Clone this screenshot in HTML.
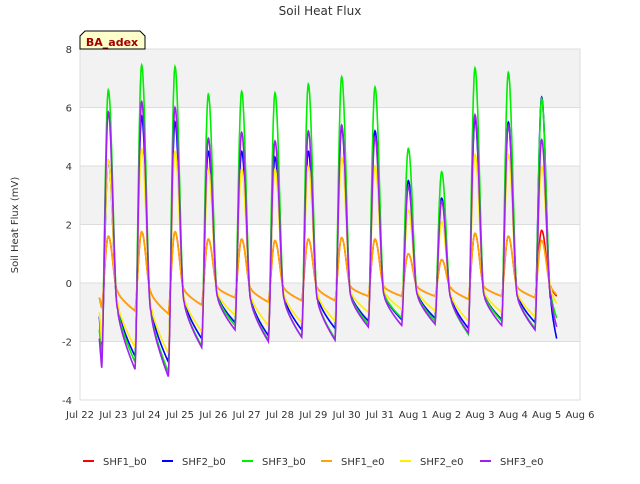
<!DOCTYPE html>
<html><head><meta charset="utf-8"><style>
body{margin:0;background:#fff;font-family:"DejaVu Sans",sans-serif}
</style></head><body>
<svg width="640" height="480" xmlns="http://www.w3.org/2000/svg" font-family="DejaVu Sans, sans-serif">
<rect width="640" height="480" fill="#fff"/>
<text x="320" y="15" text-anchor="middle" font-size="12" fill="#333">Soil Heat Flux</text>
<g id="bands"></g>
<g id="grid"></g>
<g id="series"></g>
<g id="axes"></g>
<g>
<path d="M80,49 L80,36 L85,31 L140,31 L145,36 L145,49 Z" fill="#ffffcc" stroke="#000"/>
<text x="112" y="46" text-anchor="middle" font-size="11" font-weight="bold" fill="#a00000">BA_adex</text>
</g>
<text transform="translate(18,225) rotate(-90)" text-anchor="middle" font-size="10" fill="#333">Soil Heat Flux (mV)</text>
<g id="legend"></g>
</svg>
<script>
const days=["Jul 22","Jul 23","Jul 24","Jul 25","Jul 26","Jul 27","Jul 28","Jul 29","Jul 30","Jul 31","Aug 1","Aug 2","Aug 3","Aug 4","Aug 5","Aug 6"];
const yTicks=[-4,-2,0,2,4,6,8];
const names=["SHF1_b0","SHF2_b0","SHF3_b0","SHF1_e0","SHF2_e0","SHF3_e0"];
const colors=["#ff0000","#0000ff","#00ee00","#ffa500","#ffee00","#a020f0"];
const startVals=[-0.5,-1.15,-1.6,-0.5,-1.0,-1.9];
const peaksSHF1b=[1.6,1.75,1.75,1.5,1.5,1.45,1.5,1.55,1.5,1.0,0.8,1.7,1.6,1.8];
const peaksSHF2b=[4.2,5.7,5.5,4.5,4.5,4.3,4.5,5.3,5.2,3.5,2.9,5.6,5.5,6.35];
const peaksSHF3b=[6.6,7.45,7.4,6.45,6.55,6.5,6.8,7.05,6.7,4.6,3.8,7.35,7.2,6.3];
const peaksSHF1e=[1.6,1.75,1.75,1.5,1.5,1.45,1.5,1.55,1.5,1.0,0.8,1.7,1.6,1.45];
const peaksSHF2e=[4.2,4.6,4.5,3.9,3.9,3.9,4.0,4.3,4.0,2.5,2.1,4.4,4.4,4.0];
const peaksSHF3e=[5.85,6.2,6.0,4.95,5.15,4.85,5.2,5.4,5.0,3.3,2.8,5.75,5.4,4.9];
const minsSHF1b=[-0.85,-0.95,-1.05,-0.75,-0.5,-0.65,-0.6,-0.6,-0.45,-0.45,-0.45,-0.55,-0.45,-0.5,-0.45];
const minsSHF2b=[-2.3,-2.5,-2.7,-1.9,-1.35,-1.8,-1.6,-1.55,-1.3,-1.25,-1.2,-1.55,-1.25,-1.35,-1.9];
const minsSHF3b=[-2.6,-2.7,-3.05,-2.15,-1.45,-1.95,-1.85,-1.9,-1.4,-1.2,-1.3,-1.75,-1.3,-1.55,-1.2];
const minsSHF1e=[-0.85,-0.95,-1.05,-0.75,-0.5,-0.65,-0.6,-0.6,-0.45,-0.45,-0.45,-0.55,-0.45,-0.5,-0.4];
const minsSHF2e=[-2.0,-2.2,-2.4,-1.65,-1.1,-1.45,-1.35,-1.3,-1.0,-0.9,-0.95,-1.3,-1.0,-1.15,-0.7];
const minsSHF3e=[-2.9,-2.95,-3.2,-2.2,-1.6,-2.0,-1.85,-1.95,-1.5,-1.45,-1.4,-1.7,-1.45,-1.6,-1.5];
const peaks=[peaksSHF1b,peaksSHF2b,peaksSHF3b,peaksSHF1e,peaksSHF2e,peaksSHF3e];
const mins=[minsSHF1b,minsSHF2b,minsSHF3b,minsSHF1e,minsSHF2e,minsSHF3e];

const L=80,R=580,T=49,B=400;
const X=t=>L+(R-L)*t/15;
const Y=v=>B-(B-T)*(v+4)/12;
const NS="http://www.w3.org/2000/svg";
function mk(tag,attrs,parent){const e=document.createElementNS(NS,tag);for(const k in attrs)e.setAttribute(k,attrs[k]);parent.appendChild(e);return e;}
const bands=document.getElementById('bands'),grid=document.getElementById('grid'),axes=document.getElementById('axes');
mk('rect',{x:L,y:T,width:R-L,height:B-T,fill:'#fff'},bands);
for(let v=-2;v<8;v+=4){const b=mk('rect',{x:L,y:Y(v+2),width:R-L,height:Y(v)-Y(v+2),fill:'#f2f2f2'},bands);

}
yTicks.forEach(v=>{const l=mk('line',{x1:L,x2:R,y1:Y(v),y2:Y(v),stroke:'#ddd'},grid);


const t=mk('text',{x:L-8,y:Y(v)+4,'text-anchor':'end','font-size':10,fill:'#333'},axes);t.textContent=v;

});
days.forEach((d,i)=>{const t=mk('text',{x:X(i),y:B+18,'text-anchor':'middle','font-size':10,fill:'#333'},axes);t.textContent=d;

});
const fr=mk('rect',{x:L,y:T,width:R-L,height:B-T,fill:'none',stroke:'#ddd'},axes);



function seriesPts(s){
  const P=peaks[s],M=mins[s],pts=[];
  const n=P.length;
  for(let t=0.58;t<=0.65;t+=0.01)pts.push([t,startVals[s]+(M[0]-startVals[s])*(t-0.58)/0.07]);
  for(let k=0;k<n;k++){
    const t0=k+0.65, next=M[k+1];
    const len=(k==n-1)?0.65:1.0;
    const v1=next*0.3;
    for(let u=0;u<=len+1e-9;u+=0.01){
      let v;
      if(u<0.2){const f=u/0.2;v=M[k]+(P[k]-M[k])*Math.pow(Math.sin(Math.PI/2*f),1.5);}
      else if(u<0.48){const f=(u-0.2)/0.28;v=v1+(P[k]-v1)*(1+Math.cos(Math.PI*f))/2;}
      else v=v1+(next-v1)*Math.pow((u-0.48)/(len-0.48),0.7);
      pts.push([t0+u,v]);
    }
  }
  return pts;
}
const sg=document.getElementById('series');
[0,1,2,3,4,5].forEach(s=>{
  const d=seriesPts(s).map((p,i)=>(i?'L':'M')+X(p[0]).toFixed(1)+','+Y(p[1]).toFixed(1)).join('');
  const p=mk('path',{d:d,fill:'none',stroke:colors[s],'stroke-width':1.6},sg);
  
  
});
const lg=document.getElementById('legend');
const lx=[83,162,242,321,400,480];
names.forEach((n,i)=>{
  const g=mk('g',{},lg);
  
  
  mk('line',{x1:lx[i],x2:lx[i]+11,y1:461,y2:461,stroke:colors[i],'stroke-width':2},g);
  const t=mk('text',{x:lx[i]+20,y:465,'font-size':10,fill:'#333'},g);t.textContent=n;
});
</script>
</body></html>
